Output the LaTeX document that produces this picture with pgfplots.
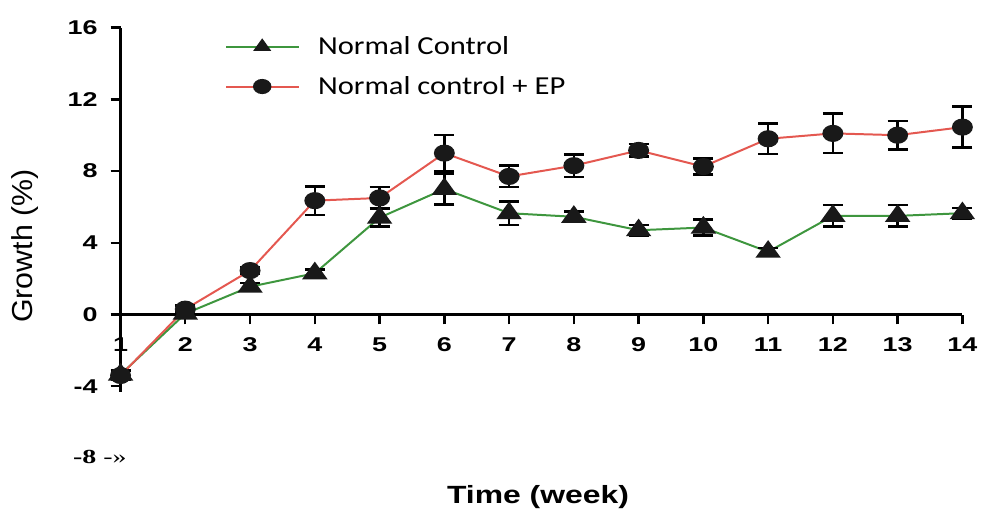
\documentclass[border=0pt]{standalone}
\usepackage{fontspec}
\setmainfont{Liberation Sans}
\usepackage{pgfplots}
\pgfplotsset{compat=1.18}
\usepackage{pgfplotstable}
\newfontfamily\tickfont[FakeStretch=1.35]{Liberation Sans}
\newfontfamily\legfont[FakeStretch=1.18]{Carlito}
\newfontfamily\labfont[FakeStretch=1.28]{Liberation Sans}
\newfontfamily\ylabfont[FakeStretch=1.05]{Liberation Sans}
\newfontfamily\serfont[FakeStretch=1.4]{Liberation Serif}
\definecolor{linered}{RGB}{228,88,80}
\definecolor{linegreen}{RGB}{62,150,62}

\pgfplotstableread{
x y e
1 -3.40 0.25
2 0.30 0.20
3 2.45 0.20
4 6.35 0.80
5 6.50 0.60
6 9.00 1.00
7 7.70 0.60
8 8.30 0.62
9 9.15 0.35
10 8.25 0.45
11 9.80 0.85
12 10.10 1.10
13 10.00 0.80
14 10.45 1.15
}\ep

\pgfplotstableread{
x y e
1 -3.35 0.25
2 0.05 0.20
3 1.55 0.20
4 2.30 0.20
5 5.40 0.50
6 7.00 0.85
7 5.65 0.65
8 5.45 0.30
9 4.70 0.30
10 4.85 0.45
11 3.50 0.20
12 5.50 0.60
13 5.50 0.60
14 5.65 0.30
}\nc

\begin{document}
\begin{tikzpicture}
\begin{axis}[
  name=ax,
  scale only axis,
  width=422.5pt, height=182.7pt,
  xmin=1, xmax=14, ymin=-4.3, ymax=16,
  axis x line=middle, axis y line=left,
  every inner x axis line/.append style={-},
  every outer y axis line/.append style={-},
  axis line style={-, line width=1.2pt, black},
  hide obscured x ticks=false, hide obscured y ticks=false,
  xtick={1,2,...,14},
  xticklabels={1,2,3,4,5,6,7,8,9,10,11,12,13,14},
  ytick={-4,0,4,8,12,16},
  yticklabels={-4,0,4,8,12,16},
  tick align=outside,
  major tick length=5pt,
  tick style={line width=1.2pt, black},
  xticklabel style={font=\tickfont\bfseries\fontsize{10}{12}\selectfont, yshift=-3pt},
  yticklabel style={font=\tickfont\bfseries\fontsize{10}{12}\selectfont, xshift=-3pt},
  clip=false,
  legend style={draw=none, fill=none, at={(axis cs:2.52,15.88)}, anchor=north west,
    font=\legfont\fontsize{13}{15}\selectfont, row sep=7.5pt,
    nodes={inner sep=1pt}},
  legend cell align=left,
  legend image code/.code={
    \draw[#1, mark=none] (0pt,0pt) -- (36.5pt,0pt);
    \draw[#1, draw=none, mark size=3.3pt] plot coordinates {(18pt,0pt)};
    \path (44.5pt,0pt);
  },
]
\addplot[linegreen, line width=1pt, mark=triangle*, mark size=5pt,
  mark options={fill=black!90, draw=black!90, xscale=1.25},
  error bars/.cd, y dir=both, y explicit,
  error bar style={line width=1.3pt, black},
  error mark options={rotate=90, mark size=5pt, line width=1.3pt, black}]
  table[x=x, y=y, y error=e] {\nc};
\addlegendentry{Normal Control}
\addplot[linered, line width=1pt, mark=*, mark size=3.8pt,
  mark options={fill=black!90, draw=black!90, xscale=1.25},
  error bars/.cd, y dir=both, y explicit,
  error bar style={line width=1.3pt, black},
  error mark options={rotate=90, mark size=5pt, line width=1.3pt, black}]
  table[x=x, y=y, y error=e] {\ep};
\addlegendentry{Normal control + EP}
\node[rotate=90, font=\ylabfont\fontsize{14.5}{16}\selectfont] at (axis cs:-0.477,3.82) {Growth (\%)};
\node[anchor=base, font=\labfont\bfseries\fontsize{12.5}{14}\selectfont] at (axis cs:7.446,-10.52) {Time (week)};
\node[anchor=base west, inner sep=0pt, font=\serfont\fontsize{10}{11}\selectfont] at (axis cs:0.262,-8.29) {\textbf{-8} -»};
\end{axis}
\path ([shift={(-60.5pt,-57.95pt)}]ax.south west) rectangle ([shift={(9pt,13.85pt)}]ax.north east);
\end{tikzpicture}
\end{document}
